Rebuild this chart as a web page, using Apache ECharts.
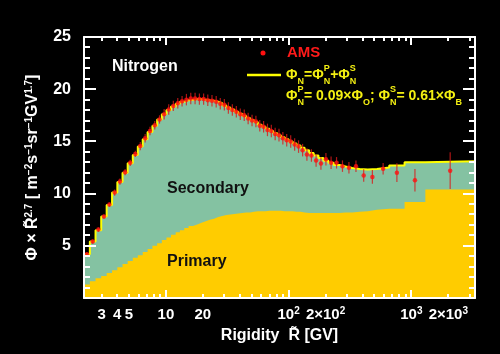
<!DOCTYPE html>
<html><head><meta charset="utf-8">
<script src="https://cdn.jsdelivr.net/npm/echarts@6/dist/echarts.min.js"></script>
<style>html,body{margin:0;padding:0;background:#000;}#c{width:500px;height:354px;}</style>
</head><body><div id="c"></div>
<script>
// ---- data ----
const binEdges = [2.15, 2.40, 2.67, 2.97, 3.29, 3.64, 4.02, 4.43, 4.88, 5.37, 5.90, 6.47, 7.09, 7.76, 8.48, 9.26, 10.1, 11.0, 12.0, 13.0, 14.1, 15.3, 16.6, 18.0, 19.5, 21.1, 22.8, 24.7, 26.7, 28.8, 31.1, 33.5, 36.1, 38.9, 41.9, 45.1, 48.5, 52.2, 56.1, 60.3, 64.8, 69.7, 74.9, 80.5, 86.5, 93.0, 100, 108, 116, 125, 135, 147, 160, 175, 192, 211, 233, 259, 291, 330, 379, 441, 525, 660, 880, 1300, 3300];
const totalModel = [4.2, 5.4, 6.5, 7.8, 8.9, 10.1, 11.1, 12.0, 12.9, 13.7, 14.5, 15.2, 15.9, 16.5, 17.1, 17.6, 18.0, 18.35, 18.6, 18.8, 18.95, 19.0, 19.05, 19.05, 19.0, 18.95, 18.9, 18.8, 18.65, 18.45, 18.25, 18.05, 17.85, 17.65, 17.45, 17.25, 17.05, 16.85, 16.6, 16.4, 16.2, 16.0, 15.8, 15.6, 15.4, 15.2, 15.0, 14.8, 14.6, 14.4, 14.15, 13.9, 13.65, 13.4, 13.15, 12.95, 12.75, 12.6, 12.45, 12.35, 12.3, 12.35, 12.5, 12.7, 13.0, 13.1];
const primaryModel = [1.3, 1.6, 1.9, 2.1, 2.4, 2.65, 2.95, 3.25, 3.55, 3.85, 4.1, 4.4, 4.7, 5.0, 5.25, 5.55, 5.8, 6.05, 6.3, 6.5, 6.7, 6.9, 7.05, 7.2, 7.35, 7.5, 7.6, 7.75, 7.85, 7.95, 8.0, 8.05, 8.1, 8.15, 8.2, 8.2, 8.25, 8.3, 8.3, 8.3, 8.35, 8.35, 8.35, 8.35, 8.3, 8.3, 8.3, 8.25, 8.25, 8.2, 8.15, 8.15, 8.15, 8.15, 8.15, 8.15, 8.15, 8.2, 8.2, 8.25, 8.3, 8.45, 8.55, 8.55, 9.2, 10.4];
const amsFlux = [4.2, 5.4, 6.55, 7.8, 8.95, 10.1, 11.15, 12.05, 12.95, 13.8, 14.55, 15.3, 16.0, 16.55, 17.1, 17.6, 18.05, 18.4, 18.65, 18.85, 19.0, 19.1, 19.1, 19.05, 19.05, 18.95, 18.9, 18.8, 18.6, 18.5, 18.2, 18.0, 17.85, 17.6, 17.5, 17.2, 17.0, 16.9, 16.5, 16.4, 16.1, 16.0, 15.7, 15.6, 15.3, 15.1, 15.0, 14.7, 14.5, 14.16, 13.75, 13.65, 13.17, 12.88, 13.3, 12.95, 12.95, 12.63, 12.47, 12.63, 11.73, 11.6, 12.37, 12.0, 11.28, 12.2];
const amsErr = [0.2, 0.2, 0.2, 0.2, 0.2, 0.3, 0.3, 0.3, 0.3, 0.3, 0.4, 0.4, 0.4, 0.4, 0.4, 0.5, 0.5, 0.5, 0.5, 0.5, 0.55, 0.55, 0.55, 0.55, 0.55, 0.55, 0.55, 0.55, 0.55, 0.55, 0.55, 0.55, 0.55, 0.55, 0.55, 0.55, 0.55, 0.55, 0.55, 0.55, 0.6, 0.6, 0.6, 0.6, 0.6, 0.6, 0.6, 0.6, 0.6, 0.6, 0.6, 0.6, 0.6, 0.6, 0.6, 0.6, 0.55, 0.55, 0.55, 0.55, 0.6, 0.65, 0.55, 0.9, 1.07, 1.75];
const xLabelValues = [3, 4, 5, 10, 20, 100, 200, 1000, 2000];
const xLabelTexts = ['3', '4', '5', '10', '20', '10{s|2}', '2×10{s|2}', '10{s|3}', '2×10{s|3}'];
const xMinorTicks = [3, 4, 5, 6, 7, 8, 9, 20, 30, 40, 50, 60, 70, 80, 90, 200, 300, 400, 500, 600, 700, 800, 900, 2000, 3000];
const xMajorTicks = [10, 100, 1000];
const yLabelValues = [5, 10, 15, 20, 25];
const yMajorTicks = [5, 10, 15, 20];
const yMinorTicks = [1, 2, 3, 4, 6, 7, 8, 9, 11, 12, 13, 14, 16, 17, 18, 19, 21, 22, 23, 24];
const xRange = [2.15, 3300];
const yRange = [0, 25];

// ---- helpers ----
const FF = '"Liberation Sans", Arial, Helvetica, sans-serif';
const WHITE = '#ffffff';
const YEL = '#ffff00';
const L = Math.log10;
function stepData(vals) {
  const d = [[binEdges[0], 0]];
  vals.forEach((v, i) => d.push([binEdges[i], v]));
  d.push([binEdges[binEdges.length - 1], vals[vals.length - 1]]);
  return d;
}
const centers = amsFlux.map((v, i) => Math.sqrt(binEdges[i] * binEdges[i + 1]));
const points = amsFlux.map((v, i) => [centers[i], v]);
const bars = amsFlux.map((v, i) => [centers[i], v - amsErr[i], v + amsErr[i]]);

const mctx = document.createElement('canvas').getContext('2d');
function textW(s, size) { mctx.font = 'bold ' + size + 'px ' + FF; return mctx.measureText(s).width; }
function txt(s, x, y, size, color, align) {
  return { type: 'text', x: x, y: y, silent: true, z: 100,
    style: { text: s, fill: color, font: 'bold ' + size + 'px ' + FF, textAlign: align || 'left', textVerticalAlign: 'middle' } };
}
function formula(x0, y0, segs, color, size, ssize, supDy, subDy) {
  const els = []; let x = x0;
  segs.forEach(sg => {
    if (sg.t) { els.push(txt(sg.t, x, y0, size, color)); x += textW(sg.t, size); }
    let w = 0;
    if (sg.sup) { els.push(txt(sg.sup, x, y0 + supDy, ssize, color)); w = Math.max(w, textW(sg.sup, ssize)); }
    if (sg.sub) { els.push(txt(sg.sub, x, y0 + subDy, ssize, color)); w = Math.max(w, textW(sg.sub, ssize)); }
    x += w;
  });
  return els;
}
const FY = '#f4f012';
const graphics = [].concat(
  [txt('Nitrogen', 112, 67, 16, WHITE),
   txt('Secondary', 167, 189, 16, '#111'),
   txt('Primary', 167, 262, 16, '#111'),
   { type: 'circle', z: 100, shape: { cx: 263, cy: 53, r: 2.5 }, style: { fill: '#ff1010' } },
   txt('AMS', 287, 53, 15, '#ff1a1a'),
   { type: 'line', z: 100, shape: { x1: 247, y1: 75, x2: 281, y2: 75 }, style: { stroke: YEL, lineWidth: 2.5 } }],
  formula(286, 75, [{ t: 'Φ', sub: 'N' }, { t: '=' }, { t: 'Φ', sup: 'P', sub: 'N' }, { t: '+' }, { t: 'Φ', sup: 'S', sub: 'N' }], FY, 14, 9, -6, 7),
  formula(286, 96, [{ t: 'Φ', sup: 'P', sub: 'N' }, { t: '= 0.09×Φ', sub: 'O' }, { t: '; Φ', sup: 'S', sub: 'N' }, { t: '= 0.61×Φ', sub: 'B' }], FY, 14, 9, -6.5, 7)
);

const supRich = { s: { fontSize: 10, fontWeight: 'bold', fontFamily: FF, color: WHITE, verticalAlign: 'top', lineHeight: 9 } };
function xLabelFmt(v) {
  for (let i = 0; i < xLabelValues.length; i++) if (Math.abs(L(xLabelValues[i]) - v) < 1e-6) return xLabelTexts[i];
  return '';
}
const frameLine = { show: true, onZero: false, lineStyle: { color: WHITE, width: 2 } };

const chart = echarts.init(document.getElementById('c'), null, { renderer: 'canvas' });
chart.setOption({
  backgroundColor: '#000000',
  animation: false,
  grid: { left: 84, right: 25, top: 37, bottom: 56 },
  xAxis: [
    { type: 'log', logBase: 10, min: xRange[0], max: xRange[1], position: 'bottom', z: 20,
      axisLine: frameLine, axisTick: { show: false }, axisLabel: { show: false }, splitLine: { show: false }, minorTick: { show: false },
      name: 'Rigidity  R̃ [GV]', nameLocation: 'middle', nameGap: 30,
      nameTextStyle: { color: WHITE, fontSize: 16, fontWeight: 'bold', fontFamily: FF } },
    { type: 'value', position: 'bottom', min: L(xRange[0]), max: L(xRange[1]), z: 20,
      axisLine: { show: false, onZero: false }, axisTick: { show: false }, splitLine: { show: false },
      axisLabel: { show: true, customValues: xLabelValues.map(L), formatter: xLabelFmt, color: WHITE, fontSize: 15, fontWeight: 'bold', fontFamily: FF, margin: 8, lineHeight: 17, rich: supRich } },
    { type: 'log', logBase: 10, min: xRange[0], max: xRange[1], position: 'top', z: 20,
      axisLine: frameLine, axisTick: { show: false }, axisLabel: { show: false }, splitLine: { show: false } }
  ],
  yAxis: [
    { type: 'value', position: 'left', min: yRange[0], max: yRange[1], z: 20,
      axisLine: frameLine, axisTick: { show: false }, splitLine: { show: false },
      axisLabel: { show: true, customValues: yLabelValues, color: WHITE, fontSize: 16, fontWeight: 'bold', fontFamily: FF, margin: 13 },
      name: 'Φ × R̃{s|2.7} [ m{s|−2}s{s|−1}sr{s|−1}GV{s|1.7}]',
      nameLocation: 'middle', nameRotate: 90, nameGap: 42,
      nameTextStyle: { color: WHITE, fontSize: 16, fontWeight: 'bold', fontFamily: FF, lineHeight: 18, rich: supRich } },
    { type: 'value', position: 'right', min: yRange[0], max: yRange[1], z: 20,
      axisLine: frameLine, axisTick: { show: false }, axisLabel: { show: false }, splitLine: { show: false } }
  ],
  series: [
    { name: 'Total', type: 'line', step: 'end', xAxisIndex: 0, yAxisIndex: 0, data: stepData(totalModel),
      symbol: 'none', z: 2, lineStyle: { color: YEL, width: 2 }, areaStyle: { color: '#84c2a2', opacity: 1 } },
    { name: 'Primary', type: 'line', step: 'end', xAxisIndex: 0, yAxisIndex: 0, data: stepData(primaryModel),
      symbol: 'none', z: 3, lineStyle: { width: 0, color: '#ffcc00' }, areaStyle: { color: '#ffcc00', opacity: 1 } },
    { name: 'AMS err', type: 'custom', xAxisIndex: 0, yAxisIndex: 0, z: 4, data: bars,
      renderItem: function (params, api) {
        const p1 = api.coord([api.value(0), api.value(1)]);
        const p2 = api.coord([api.value(0), api.value(2)]);
        return { type: 'line', shape: { x1: p1[0], y1: p1[1], x2: p2[0], y2: p2[1] }, style: { stroke: '#d81a1a', lineWidth: 1.2, opacity: 0.8 } };
      } },
    { name: 'AMS', type: 'scatter', xAxisIndex: 0, yAxisIndex: 0, z: 5, data: points,
      symbol: 'circle', symbolSize: 4.5, itemStyle: { color: '#ff1010' } }
  ]
});

// frame tick marks as small filled rectangles, positioned through the chart's own axis scales
const tickEls = [];
function px(x, y) { return chart.convertToPixel({ xAxisIndex: 0, yAxisIndex: 0 }, [x, y]); }
function tickRect(p, dx, dy) {
  if (!p || !isFinite(p[0]) || !isFinite(p[1])) return;
  const x = Math.round(p[0]), y = Math.round(p[1]);
  const r = dx === 0
    ? { x: x - 1, y: dy < 0 ? y + dy : y, width: 2, height: Math.abs(dy) }
    : { x: dx < 0 ? x + dx : x, y: y - 1, width: Math.abs(dx), height: 2 };
  tickEls.push({ type: 'rect', z: 100, shape: r, style: { fill: WHITE } });
}
xMinorTicks.concat(xMajorTicks).forEach(v => {
  const len = xMajorTicks.indexOf(v) >= 0 ? 8 : 4;
  tickRect(px(v, yRange[0]), 0, -len);
  tickRect(px(v, yRange[1]), 0, len);
});
yMinorTicks.concat(yMajorTicks).forEach(v => {
  const len = yMajorTicks.indexOf(v) >= 0 ? 12 : 6;
  tickRect(px(xRange[0], v), len, 0);
  tickRect(px(xRange[1], v), -len, 0);
});
chart.setOption({ graphic: { elements: tickEls.concat(graphics) } });
</script>
</body></html>
